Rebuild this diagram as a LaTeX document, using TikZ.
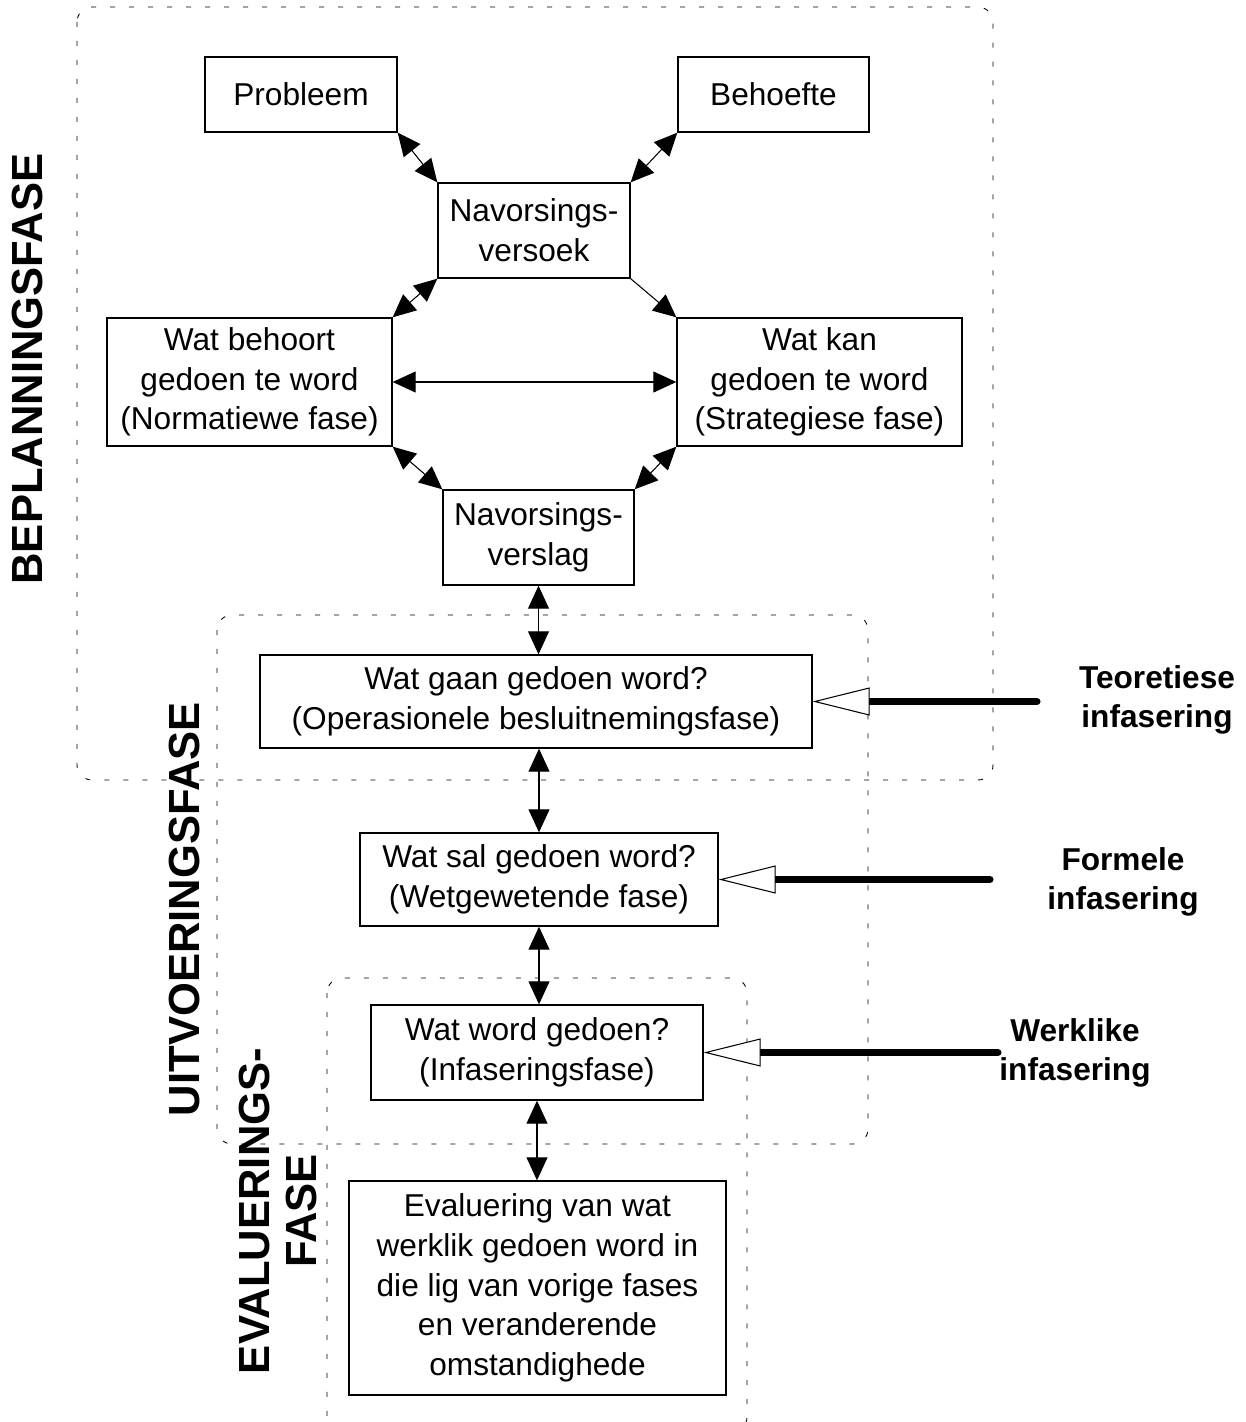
\documentclass[tikz,border=0pt]{standalone}
\usepackage{fontspec}
\setmainfont{Liberation Sans}
\usetikzlibrary{arrows.meta}

\newcommand\fasefont{\fontsize{18}{22.6}\selectfont}
\newcommand\fasekopfont{\bfseries\fontsize{24.8}{26.5}\selectfont}
\newcommand\fasepylkop{Triangle[length=0.46cm,width=0.42cm]}
\newcommand\infasepylkop{Triangle[length=1.14cm,width=0.56cm,line width=0.6pt,fill=white]}

\tikzset{
  fasebox/.style={draw, line width=0.8pt, align=center, inner sep=0pt, font=\fasefont},
  faseframe/.style={line width=0.5pt, dash pattern=on 0.1cm off 0.28cm, rounded corners=0.3cm},
  fasepyl/.style={line width=0.6pt, {\fasepylkop}-{\fasepylkop}},
  fasepyleen/.style={line width=0.6pt, -{\fasepylkop}},
  infasepyl/.style={line width=4pt, line cap=round, -{\infasepylkop}},
  infaselabel/.style={align=center, inner sep=0pt, font=\fasefont\bfseries},
  fasekop/.style={rotate=90, align=center, inner sep=0pt, font=\fasekopfont}
}

\begin{document}
\begin{tikzpicture}[x=0.02cm, y=-0.02cm]
  \useasboundingbox (0,0) rectangle (1245,1422);

  % dotted phase frames
  \draw[faseframe] (77,7) rectangle (993,780);
  \draw[faseframe] (217,615) rectangle (868,1144);
  \draw[faseframe] (327,978) rectangle (747,1432);

  % phase names
  \node[fasekop] (beplanning) at (27.5,369) {BEPLANNINGSFASE};
  \node[fasekop] (uitvoering) at (184,909) {UITVOERINGSFASE};
  \node[fasekop] (evaluering) at (278,1211) {EVALUERINGS-\\FASE};

  % boxes
  \node[fasebox, minimum width=3.84cm, minimum height=1.5cm] (probleem) at (301,94.5) {Probleem};
  \node[fasebox, minimum width=3.82cm, minimum height=1.5cm] (behoefte) at (773.5,94.5) {Behoefte};
  \node[fasebox, minimum width=3.84cm, minimum height=1.9cm] (versoek) at (534,230.5) {Navorsings-\\versoek};
  \node[fasebox, minimum width=5.7cm, minimum height=2.56cm] (behoort) at (249.5,382) {Wat behoort\\gedoen te word\\(Normatiewe fase)};
  \node[fasebox, minimum width=5.7cm, minimum height=2.56cm] (kan) at (819.5,382) {Wat kan\\gedoen te word\\(Strategiese fase)};
  \node[fasebox, minimum width=3.82cm, minimum height=1.9cm] (verslag) at (538.5,537.5) {Navorsings-\\verslag};
  \node[fasebox, minimum width=11.04cm, minimum height=1.86cm] (gaan) at (536,701.5) {Wat gaan gedoen word?\\(Operasionele besluitnemingsfase)};
  \node[fasebox, minimum width=7.16cm, minimum height=1.86cm] (sal) at (539,879.5) {Wat sal gedoen word?\\(Wetgewetende fase)};
  \node[fasebox, minimum width=6.64cm, minimum height=1.9cm] (word) at (537,1052.5) {Wat word gedoen?\\(Infaseringsfase)};
  \node[fasebox, minimum width=7.54cm, minimum height=4.28cm] (evalueer) at (537.5,1288) {Evaluering van wat\\werklik gedoen word in\\die lig van vorige fases\\en veranderende\\omstandighede};

  % connectors
  \draw[fasepyl] (probleem.south east) -- (versoek.north west);
  \draw[fasepyl] (behoefte.south west) -- (versoek.north east);
  \draw[fasepyl] (versoek.south west) -- (behoort.north east);
  \draw[fasepyleen] (versoek.south east) -- (kan.north west);
  \draw[fasepyl] (behoort.east) -- (kan.west);
  \draw[fasepyl] (behoort.south east) -- (verslag.north west);
  \draw[fasepyl] (kan.south west) -- (verslag.north east);
  \draw[fasepyl] (verslag.south) -- (verslag.south |- gaan.north);
  \draw[fasepyl] (gaan.south -| sal.north) -- (sal.north);
  \draw[fasepyl] (sal.south) -- (sal.south |- word.north);
  \draw[fasepyl] (word.south) -- (word.south |- evalueer.north);

  % infasering
  \node[infaselabel] (teoretiese) at (1157,700) {Teoretiese\\infasering};
  \node[infaselabel] (formele) at (1123,882) {Formele\\infasering};
  \node[infaselabel] (werklike) at (1075,1053) {Werklike\\infasering};
  \coordinate (teostart) at (1037,701.5);
  \coordinate (formstart) at (990,879.5);
  \coordinate (werkstart) at (998,1052.5);
  \draw[infasepyl] (teostart) -- (gaan.east);
  \draw[infasepyl] (formstart) -- (sal.east);
  \draw[infasepyl] (werkstart) -- (word.east);
\end{tikzpicture}
\end{document}
